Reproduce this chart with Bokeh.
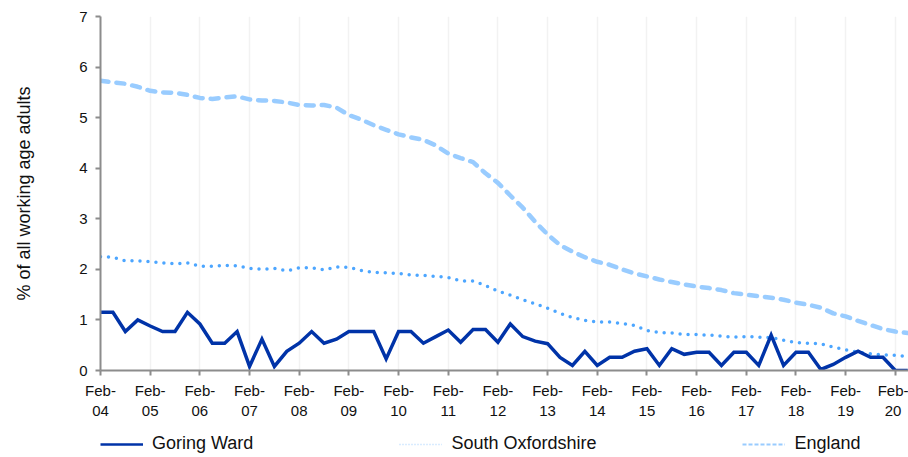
from bokeh.plotting import figure
from bokeh.layouts import column
from bokeh.models import FixedTicker, Legend, LegendItem, Range1d
from bokeh.embed import file_html
from bokeh.resources import INLINE

# ---- data (quarterly, Feb-04 .. May-20) ----
years = ["04", "05", "06", "07", "08", "09", "10", "11", "12",
         "13", "14", "15", "16", "17", "18", "19", "20"]
months = ["Feb", "May", "Aug", "Nov"]
periods = [f"{m}-{y}" for y in years for m in months][:66]

goring_ward = [
    1.15, 1.15, 0.77, 1.00, 0.88, 0.77, 0.77, 1.15, 0.92, 0.54,
    0.54, 0.77, 0.08, 0.62, 0.08, 0.38, 0.54, 0.77, 0.54, 0.62,
    0.77, 0.77, 0.77, 0.23, 0.77, 0.77, 0.54, 0.67, 0.80, 0.56,
    0.81, 0.81, 0.56, 0.92, 0.67, 0.58, 0.53, 0.26, 0.10, 0.38,
    0.10, 0.26, 0.26, 0.38, 0.43, 0.10, 0.43, 0.32, 0.36, 0.36,
    0.10, 0.36, 0.36, 0.10, 0.70, 0.10, 0.36, 0.36, 0.02, 0.12,
    0.26, 0.38, 0.26, 0.26, 0.00, 0.00,
]
south_oxfordshire = [
    2.25, 2.24, 2.17, 2.17, 2.15, 2.13, 2.11, 2.13, 2.06, 2.06,
    2.08, 2.07, 2.02, 2.00, 2.02, 1.97, 2.03, 2.03, 1.99, 2.05,
    2.04, 1.98, 1.94, 1.93, 1.92, 1.89, 1.88, 1.86, 1.84, 1.77,
    1.77, 1.68, 1.57, 1.49, 1.40, 1.32, 1.23, 1.13, 1.05, 0.99,
    0.96, 0.96, 0.93, 0.89, 0.79, 0.75, 0.74, 0.71, 0.71, 0.70,
    0.68, 0.66, 0.67, 0.66, 0.65, 0.60, 0.55, 0.54, 0.53, 0.46,
    0.41, 0.36, 0.33, 0.31, 0.30, 0.28,
]
england = [
    5.73, 5.70, 5.67, 5.61, 5.53, 5.50, 5.49, 5.45, 5.39, 5.37,
    5.40, 5.42, 5.36, 5.34, 5.33, 5.30, 5.25, 5.24, 5.25, 5.20,
    5.05, 4.96, 4.85, 4.76, 4.67, 4.61, 4.56, 4.45, 4.29, 4.20,
    4.12, 3.90, 3.71, 3.46, 3.22, 2.94, 2.69, 2.48, 2.35, 2.24,
    2.15, 2.09, 2.00, 1.92, 1.86, 1.80, 1.75, 1.70, 1.66, 1.63,
    1.59, 1.53, 1.50, 1.47, 1.44, 1.40, 1.34, 1.30, 1.24, 1.13,
    1.07, 0.98, 0.90, 0.82, 0.77, 0.74,
]
series_names = ["Goring Ward", "South Oxfordshire", "England"]
y_ticks = [0, 1, 2, 3, 4, 5, 6, 7]

x = list(range(len(periods)))
tick_pos = [i for i, lab in enumerate(periods) if lab.startswith("Feb")]
tick_labels = {i: periods[i].replace("-", "-\n") for i in tick_pos}

FONT = "Liberation Sans"
AXIS_GRAY = "#8c8c8c"
C_GORING = "#0033a8"
C_SOXON = "#4da6ff"
C_ENG = "#99ccff"

W = 908
p = figure(width=W, height=425, output_backend="svg", toolbar_location=None,
           x_range=Range1d(0, 65.06), y_range=Range1d(0, 7),
           min_border_left=100, min_border_right=0, min_border_top=16,
           min_border_bottom=55)
p.outline_line_color = None
p.background_fill_color = "white"
p.border_fill_color = "white"

# axes
p.xaxis.ticker = FixedTicker(ticks=tick_pos)
p.xaxis.major_label_overrides = tick_labels
p.yaxis.ticker = FixedTicker(ticks=y_ticks)
for ax in (p.xaxis[0], p.yaxis[0]):
    ax.axis_line_color = AXIS_GRAY
    ax.axis_line_width = 2
    ax.major_tick_line_color = AXIS_GRAY
    ax.major_tick_line_width = 2
    ax.major_tick_out = 5
    ax.major_tick_in = 0
    ax.minor_tick_line_color = None
    ax.major_label_text_font = FONT
    ax.major_label_text_font_size = "15px"
    ax.major_label_text_color = "#111111"
p.xaxis.major_label_standoff = 6
p.yaxis.major_label_standoff = 8
p.yaxis.axis_label = "% of all working age adults"
p.yaxis.axis_label_text_font = FONT
p.yaxis.axis_label_text_font_size = "18px"
p.yaxis.axis_label_text_font_style = "normal"
p.yaxis.axis_label_text_color = "#111111"
p.yaxis.axis_label_standoff = 42

p.ygrid.visible = False
p.xgrid.ticker = FixedTicker(ticks=tick_pos)
p.xgrid.grid_line_color = "#f2f2f2"
p.xgrid.grid_line_width = 1.5

# series
p.line(x, england, line_color=C_ENG, line_width=4.5,
       line_dash="8 8", line_cap="round", line_join="round")
p.line(x, south_oxfordshire, line_color=C_SOXON, line_width=3.5,
       line_dash="0 8", line_cap="round")
p.line(x, goring_ward, line_color=C_GORING, line_width=3.5,
       line_join="miter")

# ---- legend strip below the chart ----
lf = figure(width=W, height=32, output_backend="svg", toolbar_location=None,
            x_range=Range1d(0, 1), y_range=Range1d(0, 1),
            x_axis_location=None, y_axis_location=None,
            min_border=0, min_border_left=0, min_border_right=0,
            min_border_top=0, min_border_bottom=0)
lf.outline_line_color = None
lf.xgrid.visible = False
lf.ygrid.visible = False
off = [-100, -99]
lg1 = lf.line(off, off, line_color=C_GORING, line_width=2.5)
lg2 = lf.line(off, off, line_color="#b3d9ff", line_width=1.5, line_dash="1 2")
lg3 = lf.line(off, off, line_color=C_ENG, line_width=2, line_dash="4 2")
legend = Legend(items=[LegendItem(label=series_names[0], renderers=[lg1]),
                       LegendItem(label=series_names[1], renderers=[lg2]),
                       LegendItem(label=series_names[2], renderers=[lg3])],
                orientation="horizontal", location=(0, 3),
                glyph_width=43, glyph_height=20, label_standoff=9,
                spacing=146, padding=0, margin=0,
                label_text_font=FONT, label_text_font_size="18px",
                label_text_color="#111111",
                border_line_color=None, background_fill_alpha=0)
lf.add_layout(legend)

layout = column(p, lf, spacing=0)
open("out.html", "w").write(file_html(layout, INLINE))
